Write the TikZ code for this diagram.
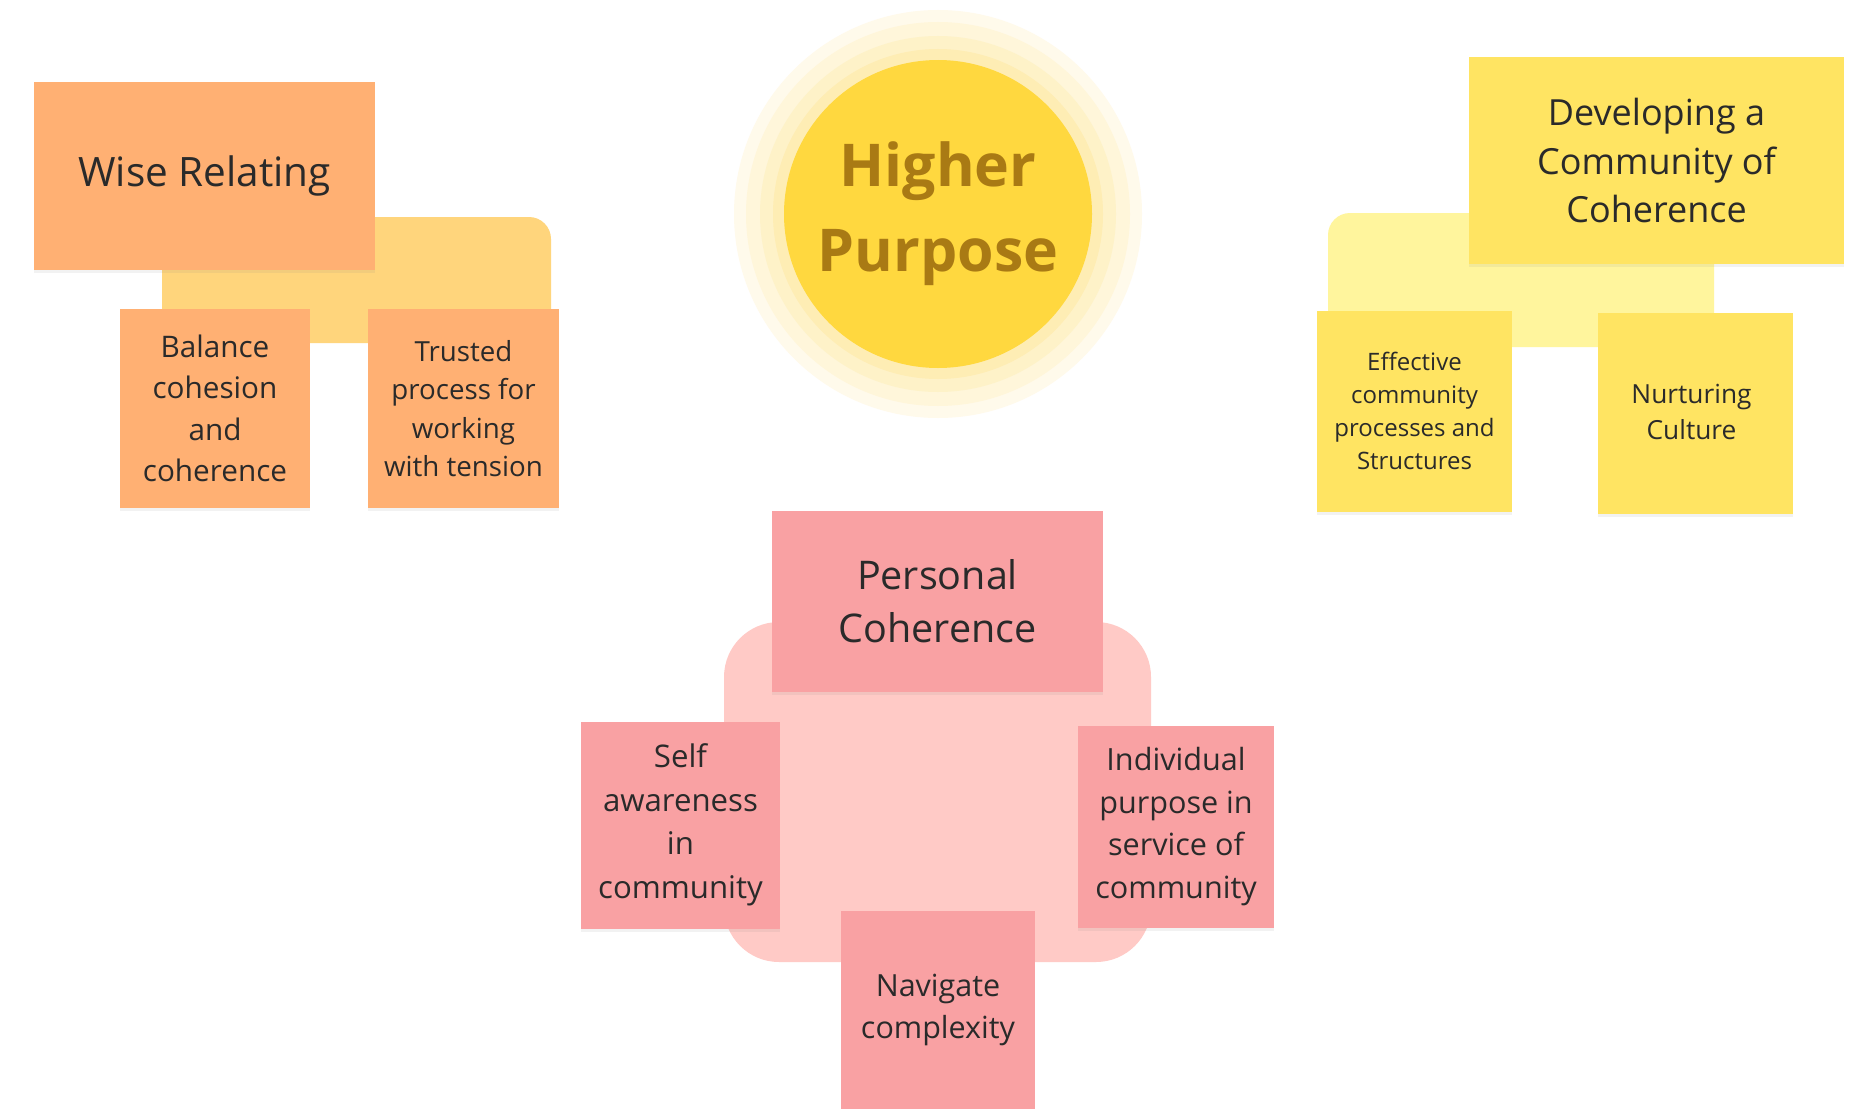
\documentclass[tikz,border=0pt]{standalone}
\usepackage{fontspec}
\setmainfont{Open Sans}
\usetikzlibrary{shadows}
\definecolor{orangeS}{HTML}{FFB073}
\definecolor{orangeBg}{HTML}{FFD57C}
\definecolor{yellowS}{HTML}{FFE462}
\definecolor{yellowBg}{HTML}{FFF59D}
\definecolor{pinkS}{HTML}{F9A1A3}
\definecolor{pinkBg}{HTML}{FFCAC6}
\definecolor{sunCore}{HTML}{FFD83F}
\definecolor{sunA}{HTML}{FEEDB4}
\definecolor{sunB}{HTML}{FEF2C8}
\definecolor{sunC}{HTML}{FFF6DA}
\definecolor{sunD}{HTML}{FFFAEB}
\definecolor{sunText}{HTML}{A97A14}
\definecolor{ink}{HTML}{2A2A2A}
\begin{document}
\begin{tikzpicture}[x=1pt,y=-1pt,
  sticky/.style={rectangle, inner sep=0pt, align=center, text=ink,
    drop shadow={opacity=0.10, shadow xshift=0pt, shadow yshift=-3pt}},
  groupbg/.style={rectangle, inner sep=0pt},
  disc/.style={circle, inner sep=0pt, minimum size=#1pt},
  sz/.style 2 args={minimum width=#1pt, minimum height=#2pt}]
\useasboundingbox (0,0) rectangle (1857,1108);
\fill[white] (0,0) rectangle (1857,1108);

% ---------- Higher Purpose ----------
\node[disc=408, fill=sunD] (halo) at (938,214) {};
\node[disc=384, fill=sunC] (halo2) at (938,214) {};
\node[disc=356, fill=sunB] (ring) at (938,214) {};
\node[disc=330, fill=sunA] (ring2) at (938,214) {};
\node[disc=308, fill=sunCore, align=center,
  text=sunText, font=\fontsize{59}{85}\selectfont\bfseries] (hp) at (938,214) {Higher\\Purpose};

% ---------- Wise Relating ----------
\node[groupbg, fill=orangeBg, rounded corners=22pt, sz={389}{126}] (wisebg) at (356.5,280) {};
\node[sticky, fill=orangeS, sz={341}{188}, font=\fontsize{40.5}{50}\selectfont] (wise) at (204.5,176) {Wise Relating};
\node[sticky, fill=orangeS, sz={190}{199}, font=\fontsize{29.7}{41.5}\selectfont] (balance) at (215,408.5) {Balance\\cohesion\\and\\coherence};
\node[sticky, fill=orangeS, sz={191}{199}, font=\fontsize{27.7}{38.5}\selectfont] (trusted) at (463.5,408.5) {Trusted\\process for\\working\\with tension};

% ---------- Developing a Community of Coherence ----------
\node[groupbg, fill=yellowBg, rounded corners=22pt, sz={386}{134}] (devbg) at (1521,280) {};
\node[sticky, fill=yellowS, sz={375}{207}, font=\fontsize{36}{48.5}\selectfont] (dev) at (1656.5,160.5) {Developing a\\Community of\\Coherence};
\node[sticky, fill=yellowS, sz={195}{201}, font=\fontsize{24}{33}\selectfont] (effective) at (1414.5,411) {Effective\\community\\processes and\\Structures};
\node[sticky, fill=yellowS, sz={195}{201}, font=\fontsize{26.3}{36}\selectfont] (nurture) at (1695.5,413.5) {};
\node[font=\fontsize{26.3}{36}\selectfont, text=ink, align=center, inner sep=0pt] (nurtureText) at ([xshift=-4pt,yshift=2pt]nurture.center) {Nurturing\\Culture};

% ---------- Personal Coherence ----------
\node[groupbg, fill=pinkBg, rounded corners=55pt, sz={427}{340}] (perbg) at (937.5,792) {};
\node[sticky, fill=pinkS, sz={331}{181}, font=\fontsize{39.5}{53}\selectfont] (personal) at (937.5,601.5) {Personal\\Coherence};
\node[sticky, fill=pinkS, sz={199}{207}, font=\fontsize{31.2}{43.5}\selectfont] (self) at (680.5,825) {Self\\awareness\\in\\community};
\node[sticky, fill=pinkS, sz={196}{202}, font=\fontsize{30.6}{42.5}\selectfont] (indiv) at (1176,826.5) {Individual\\purpose in\\service of\\community};
\node[sticky, fill=pinkS, sz={194}{198}, font=\fontsize{30.5}{42}\selectfont] (navigate) at (938,1009.5) {Navigate\\complexity};
\end{tikzpicture}
\end{document}
